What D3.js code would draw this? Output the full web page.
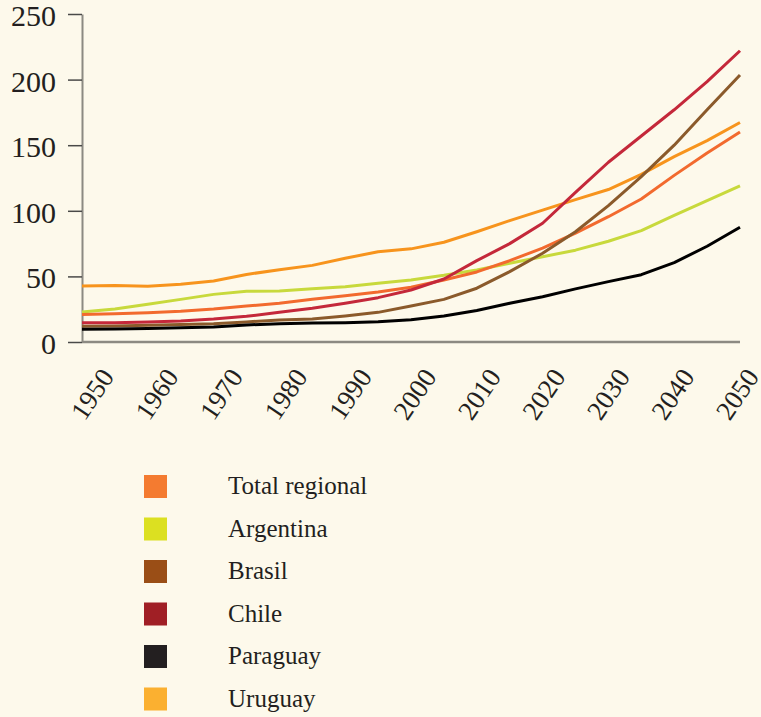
<!DOCTYPE html>
<html>
<head>
<meta charset="utf-8">
<script src="https://cdn.jsdelivr.net/npm/d3@7"></script>
<style>
    body { margin: 0; background: #fdf9eb; }
    svg { display: block; }
    text { font-family: "Liberation Serif", "DejaVu Serif", serif; fill: #231f20; }
</style>
</head>
<body>
<svg id="chart" width="761" height="717"></svg>
<script>
var years = [1950, 1955, 1960, 1965, 1970, 1975, 1980, 1985, 1990, 1995, 2000,
    2005, 2010, 2015, 2020, 2025, 2030, 2035, 2040, 2045, 2050];
var yearTicks = [1950, 1960, 1970, 1980, 1990, 2000, 2010, 2020, 2030, 2040, 2050];
var valueTicks = [0, 50, 100, 150, 200, 250];

var seriesNames = ["Total regional", "Argentina", "Brasil", "Chile", "Paraguay", "Uruguay"];

var totalRegional = [21, 21.6, 22.3, 23.4, 25.1, 27.4, 29.5, 32.5, 35.3, 38.1, 41.7,
    47.3, 53.4, 62, 71.6, 83, 95.5, 109, 127, 144, 160];
var argentina = [22.9, 25.2, 28.7, 32.5, 36.3, 38.6, 38.9, 40.6, 42.2, 44.7, 47.3,
    50.8, 54.9, 60, 65, 70, 76.8, 84.9, 96.5, 107.8, 119];
var brasil = [12, 12.2, 12.7, 13.3, 14, 15.3, 16.8, 17.5, 19.8, 22.6, 27.5,
    32.5, 41, 53.6, 67.6, 84, 104, 126, 150, 177, 203.5];
var chile = [14.7, 14.7, 15.2, 16, 17.5, 19.6, 22.6, 25.7, 29.5, 33.8, 39.6,
    48, 62, 75, 90.5, 114, 137, 157, 177, 198.5, 222];
var paraguay = [9.7, 10, 10.2, 10.8, 11.4, 13, 14, 14.4, 14.7, 15.5, 17,
    19.8, 24, 29.5, 34.5, 40.5, 46, 51.3, 60.5, 73, 87.5];
var uruguay = [42.7, 43, 42.5, 44, 46.5, 51.5, 55, 58.4, 63.8, 68.8, 71,
    76, 84, 92.5, 100.5, 108.5, 116.2, 127.8, 141.3, 153.5, 167.3];

// legend swatches and lines are not quite the same tone in the original
var swatchColors = ["#f47b30", "#dce021", "#9a4e16", "#a01f25", "#231f20", "#fbb030"];
var lineColors = ["#f26a2e", "#c8d93c", "#8b5a2b", "#c4283a", "#000000", "#f7941d"];

var allSeries = [totalRegional, argentina, brasil, chile, paraguay, uruguay];
// drawing order, bottom to top
var drawOrder = [5, 1, 0, 2, 3, 4];

var svg = d3.select("#chart");

var x = d3.scaleLinear().domain([1950, 2050]).range([82, 740]);
var y = d3.scaleLinear().domain([0, 250]).range([342, 14]);
//labels under the axis sit a bit off the tick positions in the original
var xLabel = d3.scaleLinear().domain([1950, 2050]).range([92, 737]);

function drawAxes() {
    var yAxis = svg.append("g")
        .attr("transform", "translate(82,0)")
        .call(d3.axisLeft(y).tickValues(valueTicks).tickSize(14).tickPadding(12).tickSizeOuter(0));
    yAxis.select(".domain").attr("stroke", "#8c8a82").attr("stroke-width", 2);
    yAxis.selectAll(".tick line").attr("stroke", "#4a4a48").attr("stroke-width", 1.5);
    yAxis.selectAll(".tick text")
        .attr("font-size", 30)
        .attr("dy", "0.38em")
        .attr("font-family", "Liberation Serif, serif")
        .attr("fill", "#231f20");

    svg.append("line")
        .attr("x1", 82).attr("x2", 740)
        .attr("y1", y(0)).attr("y2", y(0))
        .attr("stroke", "#8c8a82")
        .attr("stroke-width", 2.5);

    svg.append("g").selectAll("text")
        .data(yearTicks)
        .join("text")
        .attr("transform", function (d) {
            return "translate(" + xLabel(d) + ",394) rotate(-56)";
        })
        .attr("text-anchor", "middle")
        .attr("dy", "0.35em")
        .attr("font-size", 27)
        .text(function (d) { return d; });
}

function drawLines() {
    var line = d3.line()
        .x(function (d, i) { return x(years[i]); })
        .y(function (d) { return y(d); });

    drawOrder.forEach(function (k) {
        svg.append("path")
            .datum(allSeries[k])
            .attr("fill", "none")
            .attr("stroke", lineColors[k])
            .attr("stroke-width", 3)
            .attr("stroke-linejoin", "round")
            .attr("d", line);
    });
}

function drawLegend() {
    var rows = svg.append("g").selectAll("g")
        .data(seriesNames)
        .join("g")
        .attr("transform", function (d, i) {
            return "translate(144," + (475 + i * 42.5) + ")";
        });

    rows.append("rect")
        .attr("width", 23)
        .attr("height", 23)
        .attr("fill", function (d, i) { return swatchColors[i]; });

    rows.append("text")
        .attr("x", 84)
        .attr("y", 19)
        .attr("font-size", 25)
        .text(function (d) { return d; });
}

drawAxes();
drawLines();
drawLegend();
</script>
</body>
</html>
